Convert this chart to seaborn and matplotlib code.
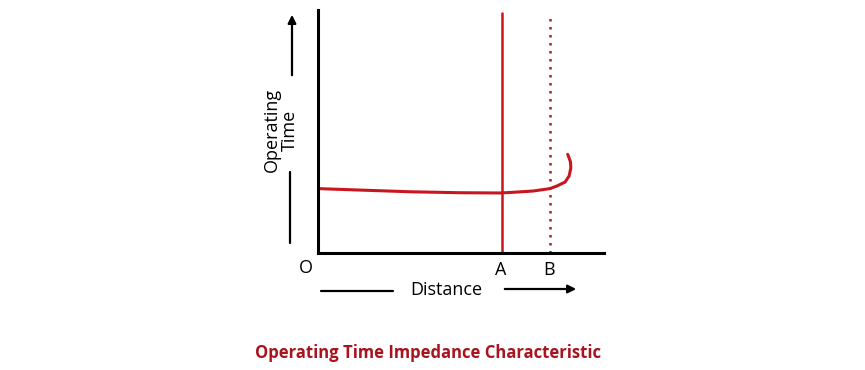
import numpy as np
import pandas as pd
import seaborn as sns
import matplotlib.pyplot as plt

# characteristic curve (distance, operating time), arbitrary units
curve_distance = [0.0, 1.47, 3.22, 4.97, 6.36, 6.71, 7.52, 8.11, 8.36, 8.64,
                  8.78, 8.84, 8.83, 8.78, 8.73]
curve_time = [2.65, 2.59, 2.52, 2.48, 2.47, 2.49, 2.55, 2.65, 2.76, 2.92,
              3.17, 3.50, 3.74, 3.91, 4.06]
point_a = 6.43
point_b = 8.11
line_top = 9.88

sns.set_theme(style="white")
plt.rcParams['font.family'] = ['Open Sans', 'DejaVu Sans']

W, H = 865, 370
fig = plt.figure(figsize=(W / 100, H / 100), dpi=100)
ax = fig.add_axes([318 / W, 1 - 253 / H, (604 - 318) / W, (253 - 10) / H])

df = pd.DataFrame({"distance": curve_distance, "time": curve_time})
sns.lineplot(x="distance", y="time", data=df, sort=False, estimator=None,
             color="#c8161e", linewidth=2.2, ax=ax,
             solid_joinstyle="round", solid_capstyle="round")
ax.plot([point_a, point_a], [0, line_top], color="#c8161e", linewidth=1.8)
ax.plot([point_b, point_b], [0, line_top], color="#b01c28", linewidth=1.8,
        linestyle=(0, (1, 2.2)))

ax.set_xlim(0, 10)
ax.set_ylim(0, 10)
ax.set_xticks([])
ax.set_yticks([])
ax.set_xlabel("")
ax.set_ylabel("")
for side in ["top", "right"]:
    ax.spines[side].set_visible(False)
for side in ["left", "bottom"]:
    ax.spines[side].set_color("black")
    ax.spines[side].set_linewidth(2.2)


def fx(px):
    return px / W


def fy(py):
    return 1 - py / H


# point labels
fig.text(fx(306), fy(268), "O", fontsize=13, ha="center", va="center", color="black")
fig.text(fx(501), fy(270), "A", fontsize=13, ha="center", va="center", color="black")
fig.text(fx(549), fy(270), "B", fontsize=13, ha="center", va="center", color="black")

# axis titles with arrows
fig.text(fx(446), fy(290), "Distance", fontsize=13, ha="center", va="center", color="black")
fig.add_artist(plt.Line2D([fx(321), fx(393)], [fy(291), fy(291)], color="black", linewidth=1.6))
ax.annotate("", xy=(fx(579), fy(289)), xytext=(fx(502), fy(289)), xycoords="figure fraction",
            arrowprops=dict(arrowstyle="-|>", color="black", lw=1.6, mutation_scale=12))

fig.text(fx(281), fy(130), "Operating\nTime", fontsize=13, ha="center", va="center",
         rotation=90, linespacing=1.05, color="black")
fig.add_artist(plt.Line2D([fx(290), fx(290)], [fy(172), fy(243)], color="black", linewidth=1.6))
ax.annotate("", xy=(fx(292), fy(12)), xytext=(fx(292), fy(78)), xycoords="figure fraction",
            arrowprops=dict(arrowstyle="-|>", color="black", lw=1.6, mutation_scale=12))

fig.text(fx(428), fy(353), "Operating Time Impedance Characteristic", fontsize=12,
         fontweight="bold", color="#a8141e", ha="center", va="center")

fig.savefig("out.png", dpi=100)
